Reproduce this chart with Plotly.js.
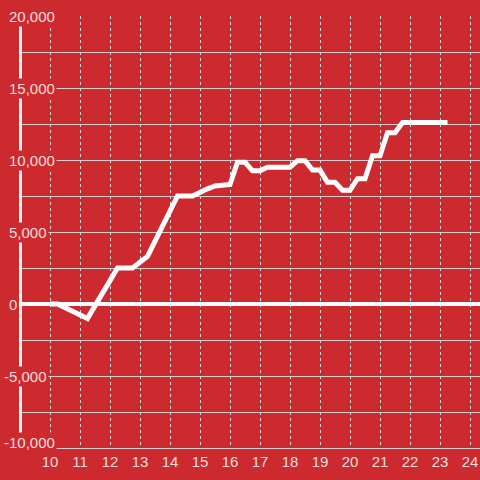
<!DOCTYPE html>
<html>
<head>
<meta charset="utf-8">
<script src="https://cdn.plot.ly/plotly-3.0.1.min.js"></script>
<style>
html,body{margin:0;padding:0;background:#cc2a2f;}
#chart{width:480px;height:480px;}
</style>
</head>
<body>
<div id="chart"></div>
<script>
// Data (hour of day vs cumulative value)
var hours = [10, 10.25, 11.25, 12.25, 12.75, 13.25, 14.25, 14.75, 15.25, 15.5, 16.0, 16.25, 16.5, 16.75, 17.0, 17.25, 18.0, 18.25, 18.5, 18.75, 19.0, 19.25, 19.5, 19.75, 20.0, 20.25, 20.5, 20.75, 21.0, 21.25, 21.5, 21.75, 23.25];
var values = [0, 0, -1000, 2500, 2500, 3300, 7500, 7500, 8000, 8200, 8300, 9850, 9850, 9250, 9250, 9500, 9500, 9950, 9950, 9300, 9300, 8450, 8450, 7900, 7900, 8700, 8700, 10300, 10300, 11900, 11900, 12600, 12600];
var yTickValues = [20000, 15000, 10000, 5000, 0, -5000, -10000];
var yTickLabels = ["20,000", "15,000", "10,000", "5,000", "0", "-5,000", "-10,000"];
var xTickValues = [10, 11, 12, 13, 14, 15, 16, 17, 18, 19, 20, 21, 22, 23, 24];
var xTickLabels = ["10", "11", "12", "13", "14", "15", "16", "17", "18", "19", "20", "21", "22", "23", "24"];

var BG = '#cc2a2f';
var TXT = '#f4dede';
var FONT = '"Liberation Sans", Arial, sans-serif';
var L = 22, W = 480 - L;

var annotations = yTickValues.map(function (v, i) {
  var lbl = yTickLabels[i];
  var left = lbl.charAt(0) === '-' ? 2 : 7;
  return {
    xref: 'paper', yref: 'y',
    x: (left - L) / W, y: v,
    xanchor: 'left', yanchor: 'middle',
    text: lbl, showarrow: false,
    bgcolor: BG, borderpad: 1,
    yshift: v === -10000 ? 6 : 0,
    font: {family: FONT, size: 15, color: TXT}
  };
});

var trace = {
  x: hours, y: values,
  type: 'scatter', mode: 'lines',
  line: {color: '#ffffff', width: 5},
  hoverinfo: 'skip'
};

var layout = {
  width: 480, height: 480,
  paper_bgcolor: BG, plot_bgcolor: BG,
  margin: {l: L, r: 0, t: 16, b: 32, pad: 0},
  showlegend: false,
  font: {family: FONT, size: 15, color: TXT},
  xaxis: {
    range: [10 - 28 / 30, 24 + 10 / 30],
    tickmode: 'array', tickvals: xTickValues, ticktext: xTickLabels,
    showgrid: true, gridcolor: '#d6d6d6', gridwidth: 1, griddash: 'dot',
    zeroline: false,
    showline: true, linecolor: '#d0d0d0', linewidth: 1,
    ticks: '', tickfont: {family: FONT, size: 15, color: TXT}
  },
  yaxis: {
    range: [-10000, 20000],
    tick0: 0, dtick: 2500,
    showticklabels: false, ticks: '',
    showgrid: true, gridcolor: '#cfcfcf', gridwidth: 1,
    zeroline: true, zerolinecolor: '#ffffff', zerolinewidth: 4,
    showline: true, linecolor: '#f2f2f2', linewidth: 3
  },
  annotations: annotations
};

Plotly.newPlot('chart', [trace], layout, {staticPlot: true, displayModeBar: false});
</script>
</body>
</html>
